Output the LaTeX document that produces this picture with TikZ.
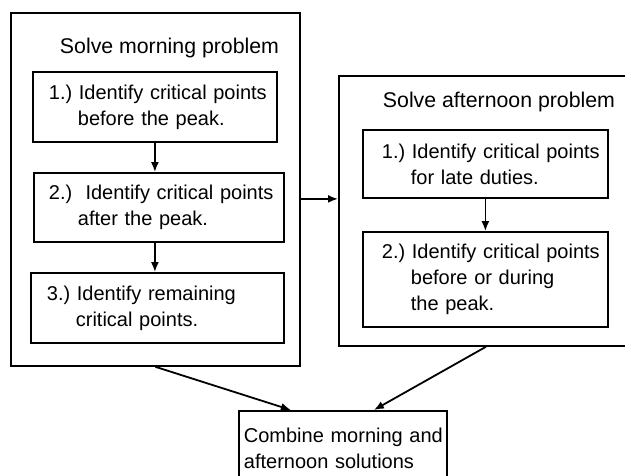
\documentclass[tikz,border=0pt]{standalone}
\usepackage{fontspec}
\setmainfont{Liberation Sans}
\usetikzlibrary{arrows.meta}
\newcommand{\stepin}{\hspace*{29pt}}
\frenchspacing

\begin{document}
\begin{tikzpicture}[x=1pt, y=-1pt, line width=1.8pt, font=\fontsize{20}{26}\selectfont,
  frame/.style={draw, rectangle, anchor=north west, inner sep=0pt},
  heading/.style={anchor=base, font=\fontsize{21.3}{26}\selectfont},
  task/.style={draw, rectangle, anchor=west, align=left, inner ysep=2pt},
  flow/.style={-{Latex[length=10pt,width=8pt]}}]
\useasboundingbox (0,0) rectangle (625,475);
\clip (0,0) rectangle (625,475);
\node[frame, minimum width=289pt, minimum height=353pt] (morning) at (10,12) {};
\node[heading] (mtitle) at (169.5,53) {Solve morning problem};
\node[task, inner xsep=16pt, text width=212pt, minimum height=70pt] (m1) at (32,107) {\mbox{1.) Identify critical points}\\ \stepin before the peak.};
\node[task, inner xsep=15pt, text width=220pt, minimum height=69pt] (m2) at (33,207.5) {\mbox{2.)\ \ Identify critical points}\\ \stepin after the peak.};
\node[task, inner xsep=16pt, text width=221pt, minimum height=70pt] (m3) at (30,308) {\mbox{3.) Identify remaining}\\ \stepin critical points.};
\node[frame, minimum width=294pt, minimum height=270pt] (afternoon) at (338,75) {};
\node[heading] (atitle) at (499,107) {Solve afternoon problem};
\node[task, inner xsep=19pt, text width=207pt, minimum height=68pt] (a1) at (362,164) {\mbox{1.) Identify critical points}\\ \stepin for late duties.};
\node[task, inner xsep=19pt, text width=207pt, minimum height=95pt] (a2) at (362,279.5) {\mbox{2.) Identify critical points}\\ \stepin before or during\\ \stepin the peak.};
\node[task, anchor=north west, inner xsep=5pt, text width=198pt, minimum height=74pt] (combine) at (238,410) {\mbox{Combine morning and}\\ afternoon solutions};
\draw[flow] (m1.south) -- (m1.south |- m2.north);
\draw[flow] (m1.south |- m2.south) -- (m1.south |- m3.north);
\draw[flow] (a1.south) -- (a2.north);
\draw[flow] (morning.east |- a1.south) -- (afternoon.west |- a1.south);
\draw[flow] (morning.south) -- ([xshift=-52pt]combine.north);
\draw[flow] (afternoon.south) -- ([xshift=31pt]combine.north);
\end{tikzpicture}
\end{document}
